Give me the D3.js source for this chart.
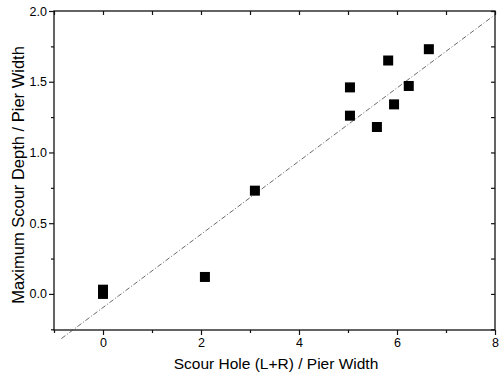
<!DOCTYPE html>
<html>
<head>
<meta charset="utf-8">
<script src="https://cdn.jsdelivr.net/npm/d3@7"></script>
<style>
  body { margin: 0; background: #fff; }
  text { font-family: "Liberation Sans", Arial, sans-serif; fill: #000; }
</style>
</head>
<body>
<svg width="500" height="376"></svg>
<script>
// data
var holeRatio  = [0, 0, 2.08, 3.1, 5.04, 5.04, 5.59, 5.82, 5.94, 6.24, 6.65];
var depthRatio = [0.03, 0.0, 0.12, 0.73, 1.26, 1.46, 1.18, 1.65, 1.34, 1.47, 1.73];
var xTicks = [0, 2, 4, 6, 8];
var xMinor = [-1, 1, 3, 5, 7];
var yTicks = [0, 0.5, 1.0, 1.5, 2.0];
var yMinor = [-0.25, 0.25, 0.75, 1.25, 1.75];
var fitX = [-0.85, 8];
var fitSlope = 0.2587, fitIntercept = -0.096;

var svg = d3.select("svg");
var plotL = 54, plotR = 495, plotT = 11, plotB = 330;

var x = d3.scaleLinear().domain([-1, 8]).range([plotL, plotR]);
var y = d3.scaleLinear().domain([-0.255, 2.0]).range([plotB, plotT]);

// frame
svg.append("rect")
   .attr("x", plotL).attr("y", plotT)
   .attr("width", plotR - plotL).attr("height", plotB - plotT)
   .attr("fill", "none").attr("stroke", "#111").attr("stroke-width", 1.3);

function styleAxis(g) {
    g.select(".domain").remove();
    g.selectAll("line").attr("stroke", "#111").attr("stroke-width", 1.2);
    g.selectAll("text").style("font-size", "12.5px").attr("fill", "#000");
}

// bottom axis, major + minor
svg.append("g").attr("transform", "translate(0," + plotB + ")")
   .call(d3.axisBottom(x).tickValues(xTicks).tickFormat(d3.format("d")).tickSize(5).tickPadding(3))
   .call(styleAxis);
svg.append("g").attr("transform", "translate(0," + plotB + ")")
   .call(d3.axisBottom(x).tickValues(xMinor).tickFormat("").tickSize(3))
   .call(styleAxis);
// top axis, inward ticks
svg.append("g").attr("transform", "translate(0," + plotT + ")")
   .call(d3.axisTop(x).tickValues(xTicks.concat(xMinor)).tickFormat("").tickSize(-4))
   .call(styleAxis);

// left axis
svg.append("g").attr("transform", "translate(" + plotL + ",0)")
   .call(d3.axisLeft(y).tickValues(yTicks).tickFormat(d3.format(".1f")).tickSize(5).tickPadding(2))
   .call(styleAxis);
svg.append("g").attr("transform", "translate(" + plotL + ",0)")
   .call(d3.axisLeft(y).tickValues(yMinor).tickFormat("").tickSize(3))
   .call(styleAxis);
// right axis, inward ticks
svg.append("g").attr("transform", "translate(" + plotR + ",0)")
   .call(d3.axisRight(y).tickValues(yTicks.concat(yMinor)).tickFormat("").tickSize(-4))
   .call(styleAxis);

// fitted line
svg.append("line")
   .attr("x1", x(fitX[0])).attr("y1", y(fitSlope * fitX[0] + fitIntercept))
   .attr("x2", x(fitX[1])).attr("y2", y(fitSlope * fitX[1] + fitIntercept))
   .attr("stroke", "#444").attr("stroke-width", 0.8)
   .attr("stroke-dasharray", "5,2,1,2");

// points
var pts = holeRatio.map(function(d, i) { return {x: d, y: depthRatio[i]}; });
svg.selectAll("rect.pt")
   .data(pts)
   .enter().append("rect")
   .attr("class", "pt")
   .attr("x", d => x(d.x) - 5)
   .attr("y", d => y(d.y) - 5)
   .attr("width", 10).attr("height", 10)
   .attr("fill", "#000");

// axis titles
svg.append("text")
   .attr("x", 276).attr("y", 369)
   .attr("text-anchor", "middle")
   .style("font-size", "15.5px")
   .text("Scour Hole (L+R) / Pier Width");

svg.append("text")
   .attr("transform", "translate(24,175) rotate(-90)")
   .attr("text-anchor", "middle")
   .style("font-size", "16.5px")
   .text("Maximum Scour Depth / Pier Width");
</script>
</body>
</html>
